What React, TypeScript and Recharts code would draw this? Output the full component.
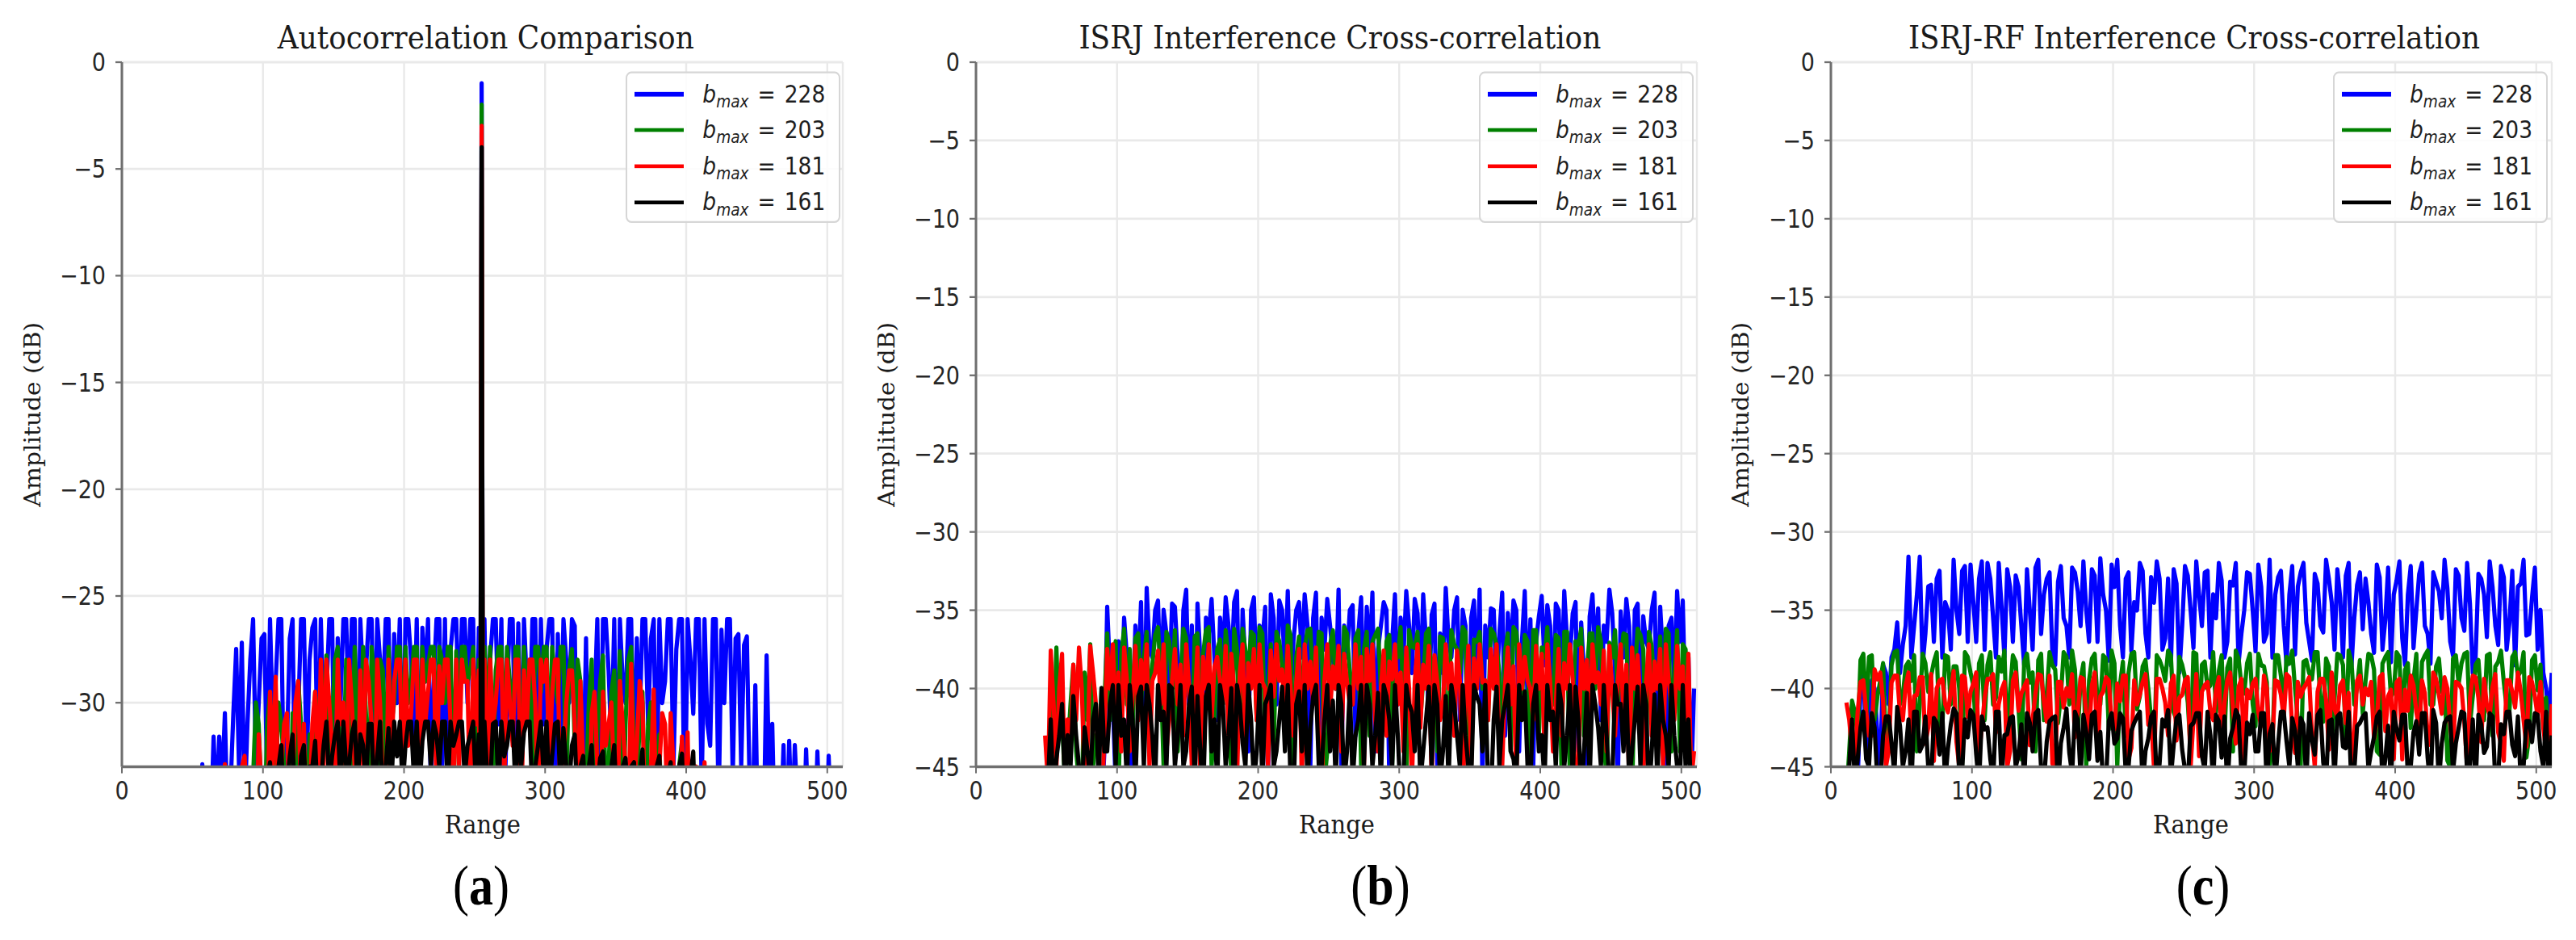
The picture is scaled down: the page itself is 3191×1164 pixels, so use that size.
import React from 'react';
import { LineChart, Line, XAxis, YAxis, CartesianGrid, Legend } from 'recharts';

// ---------- figure geometry ----------
const S = 1.15; // vertical stretch of the figure
const FIG_W = 3191;
const FIG_H = 1164 / S;
const PLOT_TOP = 77 / S;
const PLOT_BOTTOM = 949.5 / S;
const PLOT_W = 893;
const YW = 140;
const XH = 100;
const RIGHT_M = 25;
const CHART_W = YW + PLOT_W + RIGHT_M;
const STEP = 4; // main samples every 4 range bins, in-between samples offset by 2
const HALF = 2;

// ---------- data ----------
const rangeTicks = [0, 100, 200, 300, 400, 500];
const ticksA = [0, -5, -10, -15, -20, -25, -30];
const ticksBC = [0, -5, -10, -15, -20, -25, -30, -35, -40, -45];
const legendValues = [228, 203, 181, 161];
const colors = ['#0000ff', '#008000', '#ff0000', '#000000'];

// (a) Autocorrelation
const peakX = 255;
const peakA = [-1, -2, -3, -4];
const floorA = -40;
const startBlueA = 53;
const blueA = [-40, -32.9, -40, -31.6, -31.6, -30.5, -34, -27.5, -27.2, -31, -26.1, -30, -26.8, -26.1, -29, -26.1, -32, -26.1, -30.5, -26.1, -28, -26.1, -26.1, -29.5, -26.1, -27, -26.1, -31, -26.1, -26.1, -28.5, -26.1, -26.1, -30, -26.1, -26.8, -26.1, -26.1, -28, -26.1, -26.5, -26.1, -29, -26.1, -26.1, -27.5, -26.1, -26.1, -30, -26.1, -26.5,
  -26.1, -28, -26.1, -26.1, -29.5, -26.1, -26.3, -26.1, -31, -26.1, -26.1, -27.5, -26.1, -26.8, -26.1, -30, -26.4, -31.5, -27, -33.5, -26.1, -26.1, -28.5, -26.1, -26.1, -30, -26.1, -27, -26.1, -31, -26.1, -26.1, -29, -26.1, -27.5, -26.1, -26.1, -30.5, -26.1, -26.1, -32, -26.1, -26.6, -26.1, -33.5, -26.8, -27.3, -34, -29.2, -35, -27.8, -31, -33.5, -32, -31.8, -32, -34, -32.2, -35, -32.3, -34, -32.5, -40];
const blueAmid = [-40, -40, -36, -35, -34, -36, -30.5, -33, -35, -28, -33, -27, -34, -31, -26.1, -35, -27, -36, -26.1, -33, -26.5, -34, -31, -26.1, -35, -30, -26.1, -26.1, -36, -29, -26.1, -33, -28, -26.1, -34, -30, -35, -26.1, -32, -36, -29, -34, -26.1, -33, -36, -26.1, -31, -26.1, -26.1, -35,
  -35, -34, -26.1, -31, -36, -26.1, -33, -35, -29, -26.1, -34, -31, -26.1, -36, -32, -28, -26.1, -37, -34, -36, -30, -35, -26.1, -32, -36, -29, -26.1, -34, -31, -26.1, -27, -35, -30, -26.1, -33, -26.1, -36, -28, -26.1, -34, -31, -26.1, -35, -30, -26.1, -27, -33, -26.9, -36, -37, -36, -34, -37, -36, -37, -36, -35, -37, -36, -37, -36, -37, -36];
const startGreenA = 89;
const greenA = [-40, -33.5, -31, -36, -29.5, -34, -31, -35, -30.5, -29, -33, -31.5, -29.5, -35, -27.8, -31, -27.4, -33, -29, -27.4, -32, -30.5, -27.4, -34, -28.5, -27.4, -30, -27.4, -27.4, -29, -27.4, -27.4, -28.2, -27.4, -27.4, -30, -27.4, -27.6, -27.4, -29, -27.4, -28,
  -27.4, -27.4, -28.5, -27.4, -27.4, -31, -27.4, -27.4, -28, -27.4, -29.5, -27.4, -27.4, -30, -27.4, -28.5, -32, -29, -34, -28, -31.5, -27.8, -33, -28.5, -27.6, -31, -27.4, -34, -29.5, -31, -35, -31.5, -36, -32.5, -35, -31.8, -34, -40];
const greenAmid = [-36, -30, -35, -31, -36, -30, -33, -37, -34, -31, -36, -33, -31, -30, -34, -28, -35, -28, -33, -31, -27.4, -35, -29, -28, -34, -31, -27.4, -33, -30, -27.4, -34, -29, -27.4, -32, -28, -27.4, -35, -30, -27.4, -28.5,
  -33, -33, -31, -34, -27.4, -32, -29, -27.4, -35, -30, -33, -27.4, -27.4, -33, -29, -27.4, -34, -27.5, -28, -36, -30, -36, -29, -35, -29.5, -34, -36, -28, -32, -31, -36, -30, -33, -38, -34, -38, -33, -37, -37];
const startRedA = 69;
const redA = [-40, -32.9, -40, -35, -33, -36, -34, -31.5, -35, -29.5, -28.8, -33, -30.5, -34, -29, -31, -35, -29.5, -28, -28, -32, -28, -30, -28, -33, -28.5, -28, -31, -28, -34, -28, -29, -28, -28, -30.5, -28, -28, -29.5, -28, -28.3, -28, -31, -28, -28, -29, -28, -28.5,
  -28, -28, -30, -28, -28, -32, -28, -28.5, -28, -30, -28, -28, -29.5, -28, -33, -28.5, -31, -29, -35, -30.5, -33, -29.5, -31, -34, -29, -33, -28.2, -32, -30, -35, -29.4, -33, -31, -30.5, -35, -31.6, -31.4, -36, -34, -32.8, -40];
const redAmid = [-40, -40, -36, -37, -32.5, -35, -37, -34, -36, -33, -35, -31, -36, -30, -35, -36, -31, -34, -33, -30, -35, -31, -34, -30, -36, -33, -29, -35, -30, -36, -33, -28, -34, -32, -28, -36, -31, -28, -34, -30, -28, -35, -33, -29, -36, -31,
  -34, -35, -31, -28, -34, -30, -28, -36, -31, -28, -35, -29, -33, -28, -36, -30, -28.5, -35, -33, -37, -29.5, -36, -32, -30, -37, -31, -36, -34, -29, -36, -33, -37, -30.5, -36, -33, -38, -36, -38, -33, -38, -38];
const startBlackA = 93;
const blackA = [-40, -33.5, -35, -32.8, -36, -32, -34, -31.5, -35, -32, -33, -31.8, -34, -30.9, -32.5, -30.9, -30.9, -33, -30.9, -31.5, -34, -31, -32.5, -35, -31.2, -30.9, -30.9, -32, -30.9, -30.9, -31.8, -30.9, -30.9, -33, -30.9, -30.9, -31.5, -30.9, -32, -30.9, -31.5,
  -30.9, -34, -30.9, -30.9, -32, -30.9, -30.9, -31.4, -30.9, -33, -30.9, -30.9, -32.5, -30.9, -31.2, -34, -31.5, -33, -35, -32, -34, -32.3, -36, -32, -34, -32.6, -33, -35, -32.2, -34, -36, -32.5, -35, -32.8, -34, -32.4, -35, -32.3, -40];
const blackAmid = [-37, -36, -33.5, -35, -33, -36, -32.5, -36, -32.5, -35, -33, -35, -32, -34, -31.5, -34, -33, -31.5, -34, -32, -31, -35, -30.9, -33, -34, -32.5, -34, -30.9, -33.5, -34, -30.9, -33, -31.5, -30.9, -34, -32, -30.9, -33.5, -31.5, -34,
  -34, -33.5, -31, -34, -32.5, -30.9, -34, -33, -30.9, -34.5, -32, -33.5, -34, -31, -34, -33, -32, -35, -32.5, -33, -35, -32.6, -35.5, -33, -35, -33, -35, -32.8, -33.5, -36, -34, -33, -36, -33.5, -35.5, -33, -36, -33.5, -37];

// (b) ISRJ interference
const startBlueB = 89;
const blueB = [-48, -34.8, -41, -37, -35.5, -46, -36, -34.5, -33.6, -38, -34.4, -35, -40, -34.8, -42, -33.7, -36, -34.6, -47, -36.5, -38, -35.5, -34.2, -39, -33.8, -35, -44, -34.2, -36, -34.8, -34, -41, -35, -33.8, -37, -34.5, -34, -45, -33.9, -35.5, -34.3, -38, -33.7, -36, -35, -43, -34.2, -34.8, -33.9, -37.5, -34.5, -46, -34, -35.5, -33.8, -39, -35.2, -34, -42, -34.6, -36.5, -33.6, -38, -34.2, -35, -47, -34.4, -33.7, -36, -34.9, -40, -33.9, -35.2, -34.4, -44, -33.8, -35.6, -37, -34.1, -34.7, -41, -35, -33.8, -38, -34.5, -35.8, -46, -34, -34.9, -36, -33.7, -39, -35.1, -34.3, -43, -34.6, -35.4, -37.5, -33.9, -34.8, -45, -35.5, -33.8, -34.4, -38, -40];
const blueBmid = [-44, -39, -46, -41, -38, -42, -39, -44, -37.5, -35, -40, -36.5, -34.6, -38, -35, -41, -45, -38, -35.5, -34.3, -42, -38, -36, -34.5, -43, -38.5, -35, -40, -37, -46, -35.5, -34.4, -39, -41, -35, -38, -36, -35.5, -44, -37.5, -36, -40, -45, -38, -34.7, -36.5, -42, -38, -44, -36, -35, -37, -41, -38, -36, -34.3, -40, -37, -35.3, -45, -39, -37, -35, -42, -36, -35.5, -40, -46, -38, -35, -36.5, -43, -38, -35, -37, -41, -45, -35.4, -38.5, -36, -34.6, -40, -37, -35.2, -44, -39, -35.4, -38, -42, -37, -35.2, -46, -38, -36, -35, -41, -37, -35, -43, -38, -36, -40, -37, -42, -46];
const startB = 49;
const greenB = [-48, -40.5, -37.4, -42, -44, -38.5, -46, -39, -37.2, -43, -40, -36.5, -38, -47, -36.2, -37.5, -36.8, -41, -36.4, -38.5, -36.1, -45, -37, -36.3, -39.5, -36.8, -44, -36.5, -37.8, -36.1, -42, -36.9, -36.3, -46, -37.5, -36.2, -39, -36.6, -36.1, -43, -37.2, -36.4, -38.5, -36, -47, -36.7, -37.4, -36.2, -40, -36.5, -44, -36.3, -37.6, -36.1, -39, -36.8, -45, -36.4, -37, -36.2, -41, -36.6, -37.8, -36.1, -46, -37.3, -36.4, -39.5, -36.2, -38, -36.7, -43, -36.3, -37.5, -36.1, -47, -36.9, -36.4, -40, -36.2, -37.2, -44, -36.5, -36.1, -38.8, -36.6, -45, -36.3, -37.4, -36.1, -41, -36.8, -36.4, -46, -37, -36.2, -39, -36.5, -36.1, -43, -37.1, -36.3, -38, -36.6, -47, -36.2, -37.5, -36.4, -40, -36.7, -36.2, -44, -36.3, -37.2, -41.5, -46];
const greenBmid = [-46, -44, -43, -46, -41, -44, -47, -42, -45, -44, -41, -42, -37, -37.8, -41, -43, -36.5, -38, -42, -36.6, -39, -36.4, -40, -44, -36.2, -40, -36.7, -41, -36.3, -45, -37.5, -41, -38, -36.2, -43, -37.6, -36.4, -42, -36.5, -40, -44, -37, -41, -36.6, -38, -43, -36.3, -40, -36.4, -46, -37.2, -40, -42, -36.5, -41, -36.3, -37.5, -43, -36.6, -40, -37, -45, -38, -41, -36.3, -37.4, -42, -36.5, -40, -44, -36.8, -41, -37.2, -39, -36.4, -45, -37, -40, -42, -36.5, -39, -37.6, -44, -36.4, -41, -37, -36.3, -43, -38, -40, -36.6, -45, -36.4, -41, -37.2, -43, -36.5, -40, -37, -46, -38, -41, -36.5, -43, -39, -36.6, -44, -37.3, -40, -42, -36.5, -39, -44, -37.5, -45];
const redB = [-43, -37.6, -45, -37.8, -42, -38.5, -37.4, -46, -37.3, -41, -48, -37.5, -37.2, -39, -37.4, -44, -37.3, -38.2, -37.2, -39.5, -37.6, -37.2, -42, -37.5, -38.5, -37.2, -45, -37.4, -38, -37.2, -38.6, -39.5, -37.3, -37.8, -46, -37.2, -38.4, -37.5, -37.2, -40, -37.6, -37.2, -38.8, -37.3, -43, -37.5, -37.2, -38.3, -37.4, -47, -37.2, -38.6, -37.3, -37.8, -41, -37.2, -38, -37.5, -37.2, -44, -37.6, -38.3, -37.2, -39, -37.4, -46, -37.2, -38.5, -37.3, -37.9, -42, -37.2, -38.4, -37.6, -47, -37.3, -38.1, -37.2, -39.5, -37.5, -37.2, -45, -37.4, -38.6, -37.2, -38, -40, -37.3, -37.8, -37.2, -44, -37.5, -38.4, -37.2, -48, -37.4, -38.2, -37.2, -39, -37.6, -37.3, -43, -37.2, -38.5, -37.4, -37.9, -46, -37.2, -38.3, -37.5, -37.2, -41, -37.3, -38.6, -37.8, -44];
const redBmid = [-46, -41, -40, -46, -44, -42, -40, -44, -39, -45, -43, -40, -42, -44, -39.5, -40.5, -42, -40, -45, -39, -41, -44, -39.5, -41, -43, -39.8, -41, -46, -40, -42, -38, -41, -43, -40, -39, -44, -40, -42, -39.6, -45, -40.5, -39.5, -42, -40, -39.6, -46, -40, -41, -43, -39.5, -41.5, -40, -44, -39.6, -41, -40, -45, -39.5, -42, -40, -43, -39.4, -41, -44, -40, -39.6, -42.5, -40, -46, -39.6, -41, -40, -43, -39.5, -41, -45, -40, -39.6, -42, -40, -44, -39.8, -41, -46, -40, -39.5, -42, -40, -44, -39.6, -41, -43, -40, -39.5, -45, -40, -42, -39.6, -41, -44, -40, -39.5, -42, -46, -40, -41, -39.6, -43, -40, -45, -39.5, -42, -40, -44, -46];
const blackB = [-47, -42, -44.5, -41, -43, -40.5, -45, -42.5, -46, -41, -40, -44, -39.8, -39.8, -42, -39.8, -46, -39.9, -39.8, -43, -39.8, -41.5, -39.8, -45, -39.8, -44, -39.9, -40.5, -47, -39.8, -42, -39.8, -45, -40, -39.8, -43.5, -39.8, -46, -39.8, -41, -39.8, -44, -39.9, -39.8, -47, -40.2, -39.8, -42.5, -39.8, -45, -39.8, -40.8, -39.8, -46, -39.9, -43, -39.8, -39.8, -45, -40.3, -39.8, -42, -39.8, -47, -39.8, -41.5, -39.8, -44, -39.9, -39.8, -46, -40.5, -39.8, -43, -39.8, -45, -39.8, -41, -39.8, -47, -39.9, -42, -39.8, -44.5, -39.8, -40.2, -46, -39.8, -43, -39.8, -41.5, -39.8, -45, -39.8, -39.9, -47, -40.3, -39.8, -42.5, -39.8, -46, -39.8, -41, -39.8, -44, -39.9, -39.8, -47, -40.4, -39.8, -43, -39.8, -45, -39.8, -42, -46];
const blackBmid = [-46, -47, -43, -46, -45, -43, -47, -44, -42, -46, -44, -41, -45, -43, -46, -42, -40.5, -45, -41, -46, -42, -45, -40, -43, -45, -41, -46, -44, -40.5, -44, -46, -41, -43, -47, -41, -45, -42, -44, -46, -40.5, -45, -42, -44, -46, -41, -44, -46, -40.5, -45, -42, -44, -46, -41, -44, -46, -42, -45, -41, -43, -46, -40.5, -45, -43, -46, -41, -44, -46, -42, -45, -41, -44, -46, -41, -45, -43, -46, -40.5, -44, -46, -42, -45, -41, -44, -46, -42, -45, -41, -44, -46, -42, -45, -41, -43, -46, -42, -44, -46, -41, -45, -43, -46, -41, -44, -46, -42, -45, -41, -44, -46, -42, -45, -43, -46, -45, -47];

// (c) ISRJ-RF interference
const startBlueC = 19;
const blueC = [-46, -38.5, -42, -40, -45, -39, -38, -35.8, -37.2, -31.6, -36, -31.6, -36.5, -33.4, -33, -38, -35, -31.8, -36.5, -32.2, -32.1, -37, -31.9, -32, -35.5, -32, -38, -33.5, -32.8, -36, -32.4, -37.5, -31.8, -34, -32.6, -38.5, -32.2, -36, -32.3, -33.8, -31.9, -37, -32.8, -31.7, -35, -32.1, -31.8, -38, -32.6, -34.5, -32, -36.5, -32.9, -31.9, -37.5, -33, -32.4, -39, -32.2, -35, -31.9, -36, -32.5, -34, -32, -38, -33.2, -32, -36.5, -32.6, -35, -32.1, -37, -31.8, -34, -32.5, -38.5, -32.2, -33.5, -32, -37, -32.7, -36, -31.8, -34.5, -32.4, -38, -32, -35.5, -32.6, -33, -36.5, -32.1, -37.5, -32.3, -34, -31.9, -38.5, -32.2, -35, -32, -36.5, -32.6, -33.8, -31.8, -37, -32.4, -35.5, -32, -39, -32.7, -34, -31.9, -36, -32.2, -37.5, -32.5, -33.5, -31.8, -36.5, -32.3, -35, -40, -39];
const blueCmid = [-40, -44, -39.5, -43, -38.5, -41, -37.5, -39, -36, -38, -34, -38.5, -33.5, -37, -32.5, -34.5, -37.5, -35, -32.5, -37, -34.5, -33, -37.5, -33, -38, -34.8, -32.4, -37, -33.5, -38.5, -35, -32.3, -36.5, -33, -37.8, -33.2, -35.5, -38, -32.6, -36, -35, -32.4, -37, -34, -38.2, -33.5, -36, -33, -37.6, -35, -32.5, -38, -34.5, -33, -36.8, -38.5, -33.3, -36, -32.8, -37.4, -34, -32.6, -38, -35.5, -33.1, -37, -33.4, -38.4, -35, -32.7, -37.6, -33.5, -36.5, -38, -32.9, -36, -34, -37.8, -32.6, -35.8, -38.2, -33.3, -36.4, -33, -37.5, -34.2, -32.8, -38.6, -33.4, -36.2, -34.5, -37.7, -32.9, -35.6, -38.3, -33.1, -36.8, -34, -37.4, -32.7, -36, -38.4, -33.2, -35.5, -33.6, -37.9, -32.8, -36.3, -34.6, -38, -33, -36.7, -33.5, -37.2, -32.9, -35.8, -38.5, -33.3, -36.6, -34.2, -37.5, -39, -42];
const startC = 11;
const greenC = [-47, -40.8, -43, -37.8, -38, -42, -39.5, -44, -38.5, -37.6, -40.5, -38.3, -37.9, -41, -38.4, -39.2, -37.7, -42.5, -38, -38.6, -40, -37.7, -39, -43, -37.9, -38.5, -41, -38, -37.6, -40.2, -38.3, -44.5, -37.8, -39, -38.2, -42, -37.7, -38.8, -40.5, -38, -37.6, -43, -38.4, -39.5, -37.8, -41, -38.1, -37.6, -45, -38.3, -39, -37.7, -40.5, -38.2, -42, -37.9, -38.7, -37.6, -41.5, -38, -39.3, -44, -37.8, -38.5, -40, -37.7, -38.9, -43, -38.1, -37.6, -39.8, -38.4, -41, -37.8, -38.6, -45, -37.9, -39.2, -38, -37.6, -42, -38.3, -39, -37.7, -40.8, -38.1, -43.5, -37.8, -38.5, -37.6, -41, -38.2, -39.5, -37.9, -44, -38.4, -37.7, -40.2, -38, -38.8, -42.5, -37.8, -38.3, -37.6, -41, -38.1, -39.6, -45, -37.9, -38.4, -37.7, -40.5, -38.2, -42, -37.8, -38.6, -37.6, -41.2, -38, -39.2, -37.7, -43, -37.9, -38.5, -40.6, -42];
const greenCmid = [-44, -41.5, -38.2, -42, -37.9, -40.5, -38.4, -43, -37.7, -41, -38.6, -39.5, -44, -37.8, -40.2, -38.3, -42.5, -37.9, -41, -38.6, -45, -38, -39.8, -38.4, -42, -37.7, -40.6, -38.9, -43.5, -37.9, -41.2, -38.3, -39.6, -44, -37.8, -40.4, -38.5, -42.2, -37.7, -41, -38.8, -39.4, -45, -38.1, -40.8, -37.9, -42.6, -38.4, -39.7, -43, -37.8, -41.3, -38.6, -40, -44.5, -38.2, -39.5, -37.9, -42, -38.5, -40.9, -37.7, -43.2, -38.3, -39.8, -41.5, -37.9, -38.7, -44, -38.1, -40.3, -37.8, -42.4, -38.5, -39.6, -43.6, -37.9, -41.1, -38.4, -40, -45, -38.2, -39.4, -37.7, -42.1, -38.6, -40.7, -37.9, -43.4, -38.3, -39.9, -41.6, -37.8, -38.8, -44.2, -38, -40.5, -37.7, -42.7, -38.4, -39.5, -43.8, -37.9, -41, -38.6, -40.2, -44.6, -38.1, -39.7, -37.8, -42.3, -38.5, -40.8, -37.9, -43, -38.3, -39.6, -41.4, -37.7, -38.9, -44.4, -38.2, -40.1, -42.5, -44];
const redC = [-40.9, -44, -41.5, -39.5, -43, -38.8, -39, -45, -39.6, -39.2, -42, -39, -40.5, -39.3, -43.5, -39.1, -40, -39.4, -41.5, -38.9, -45, -39.3, -40.2, -39, -42.5, -39.4, -39.1, -41, -39.6, -44, -39, -40.3, -39.5, -42, -39.1, -40.8, -39.2, -45, -39.6, -40, -39.1, -41.5, -39.4, -43, -39, -40.5, -39.3, -42.2, -39.7, -39.2, -44.5, -39.5, -40.4, -39.1, -41.8, -39.4, -40, -43, -39.2, -40.6, -39.5, -45, -39.1, -40.2, -39.6, -42, -39.3, -40.9, -39, -43.5, -39.4, -40.1, -39.7, -41.5, -39.2, -44, -39.5, -40.4, -39.1, -42.5, -39.6, -40, -39.3, -45, -39.4, -40.7, -39, -41.8, -39.5, -40.3, -43, -39.2, -40, -39.6, -42, -39.1, -40.5, -44.5, -39.4, -40.1, -39.2, -41.5, -39.5, -43, -39, -40.4, -39.3, -42.3, -39.6, -40, -45, -39.2, -40.6, -39.4, -41.7, -39.1, -43.5, -39.5, -40.2, -39, -42, -39.3, -40.5, -39.6, -44, -41];
const redCmid = [-42, -44.5, -39.6, -41.5, -43, -39.4, -40.8, -44, -39.2, -41.6, -39.8, -43.2, -40.4, -39.3, -42.5, -44.6, -39.5, -41, -40.2, -43.4, -39.2, -41.8, -39.7, -44.2, -40.6, -39.4, -42.8, -40.1, -45, -39.5, -41.4, -39.9, -43.6, -40.3, -39.2, -42.1, -44.8, -39.6, -41.2, -40.5, -43.1, -39.3, -41.7, -39.8, -44.4, -40.2, -39.5, -42.6, -40.8, -39.2, -43.8, -41, -39.6, -42.3, -45, -39.4, -40.9, -39.7, -43.3, -40.4, -39.3, -42, -44.3, -39.8, -41.5, -40.1, -43.7, -39.5, -41.2, -39.9, -44.7, -40.6, -39.4, -42.4, -40, -43.5, -39.6, -41.9, -39.3, -44.1, -40.5, -39.7, -42.9, -40.2, -39.4, -43.9, -41.3, -39.8, -42.2, -44.9, -39.5, -41, -40.4, -43.2, -39.3, -42.7, -40.1, -39.6, -44.5, -41.4, -39.8, -42.5, -40.3, -43.6, -39.4, -41.6, -40, -44.2, -39.7, -42.1, -40.6, -39.3, -43.4, -41.1, -39.9, -42.8, -44.6, -39.5, -41.2, -40.2, -43.7, -39.6, -41.8, -42.5, -44];
const blackC = [-47, -42, -44.5, -41.5, -45, -42.5, -46, -41.8, -43.5, -41.2, -45, -42, -41.5, -44, -41.8, -46, -42.2, -41.6, -43.8, -41.3, -45.5, -42, -41.4, -44.2, -41.8, -42.5, -46, -41.5, -43, -41.9, -45, -42.3, -41.6, -44, -41.4, -46, -42.1, -41.8, -43.5, -41.3, -45.5, -42, -41.7, -44.5, -41.5, -42.8, -46, -41.6, -43.2, -41.9, -45, -42.2, -41.5, -44, -41.8, -46, -42, -41.4, -43.6, -41.7, -45.2, -42.4, -41.6, -44.3, -41.5, -46, -42.1, -41.8, -43.2, -41.4, -45.5, -42.2, -41.7, -44, -41.6, -42.9, -46, -41.5, -43.4, -41.9, -45, -42.3, -41.6, -44.2, -41.4, -46, -42, -41.8, -43.7, -41.5, -45.3, -42.2, -41.6, -44, -41.8, -46, -42.4, -41.5, -43.3, -41.7, -45, -42.1, -41.6, -44.4, -41.4, -46, -42.2, -41.8, -43.5, -41.5, -45.4, -42, -41.7, -44.1, -41.6, -46, -42.3, -41.5, -43.6, -41.8, -45, -42.1, -41.6, -44, -41.5, -43];
const blackCmid = [-45, -46, -42.5, -44.5, -41.6, -46, -43, -41.8, -45.5, -42.4, -44, -46.5, -41.5, -43.6, -45, -41.9, -44.2, -46, -42.3, -41.6, -45.3, -43.1, -41.7, -46.2, -42.6, -44.5, -41.5, -45.8, -42.9, -41.8, -44.3, -46, -42.2, -41.6, -45.1, -43.4, -41.9, -46.4, -42.5, -44.1, -41.5, -45.6, -42.8, -41.7, -44.6, -46.1, -42.1, -43.5, -41.6, -45.4, -42.7, -41.8, -46.3, -43.2, -41.5, -44.8, -42.4, -45.7, -41.9, -43.9, -46, -42.2, -41.6, -45.2, -43, -41.7, -44.4, -46.5, -42.5, -41.8, -45.5, -42.9, -44, -41.6, -46.2, -42.3, -43.6, -41.5, -45, -42.7, -41.9, -46, -43.3, -41.7, -44.7, -42.1, -45.8, -41.6, -43.8, -46.3, -42.4, -41.8, -45.1, -43.1, -41.5, -44.5, -46, -42.6, -41.7, -45.6, -42.8, -44.2, -41.6, -46.4, -42.2, -43.5, -41.9, -45.3, -42.5, -41.6, -44.9, -46.1, -42.3, -43.7, -41.8, -45.7, -42.9, -41.5, -44.3, -46, -42.1, -43.4, -41.7, -45, -46.5];

// ---------- helpers ----------
type Pt = { x: number; y: number };
const toPoints = (start: number, values: number[]): Pt[] =>
  values.map((y, i) => ({ x: start + i * STEP, y }));

const series = (start: number, main: number[], mid: number[]): Pt[] =>
  [...toPoints(start, main), ...toPoints(start + HALF, mid)].sort((p, q) => p.x - q.x);

const withPeak = (pts: Pt[], peak: number): Pt[] =>
  [
    ...pts.filter((p) => Math.abs(p.x - peakX) > 1),
    { x: peakX - 1, y: floorA },
    { x: peakX, y: peak },
    { x: peakX + 1, y: floorA },
  ].sort((p, q) => p.x - q.x);

const fmt = (v: number) => (v < 0 ? `\u2212${-v}` : `${v}`);

const SPINE = '#6f6f6f';
const TICK_FONT = { fill: '#262626', fontSize: 27, fontFamily: 'DejaVu Sans' };

type Panel = {
  left: number;
  title: string;
  titleW: number;
  yDomain: [number, number];
  yTicks: number[];
  series: Pt[][];
  legendInset: number;
  caption: string;
  captionX: number;
};

const panels: Panel[] = [
  {
    left: 151.3,
    title: 'Autocorrelation Comparison',
    titleW: 516,
    yDomain: [-33, 0],
    yTicks: ticksA,
    series: [
      withPeak(series(startBlueA, blueA, blueAmid), peakA[0]),
      withPeak(series(startGreenA, greenA, greenAmid), peakA[1]),
      withPeak(series(startRedA, redA, redAmid), peakA[2]),
      withPeak(series(startBlackA, blackA, blackAmid), peakA[3]),
    ],
    legendInset: 3,
    caption: 'a',
    captionX: 596,
  },
  {
    left: 1209.4,
    title: 'ISRJ Interference Cross-correlation',
    titleW: 647,
    yDomain: [-45, 0],
    yTicks: ticksBC,
    series: [
      series(startBlueB, blueB, blueBmid),
      series(startB, greenB, greenBmid),
      series(startB, redB, redBmid),
      series(startB, blackB, blackBmid),
    ],
    legendInset: 4.5,
    caption: 'b',
    captionX: 1710,
  },
  {
    left: 2267.5,
    title: 'ISRJ-RF Interference Cross-correlation',
    titleW: 708,
    yDomain: [-45, 0],
    yTicks: ticksBC,
    series: [
      series(startBlueC, blueC, blueCmid),
      series(startC, greenC, greenCmid),
      series(startC, redC, redCmid),
      series(startC, blackC, blackCmid),
    ],
    legendInset: 4.5,
    caption: 'c',
    captionX: 2729,
  },
];

const LEG_W = 266;
const LEG_H = 163;

const renderLegend = () => (
  <div
    style={{
      boxSizing: 'border-box',
      width: LEG_W,
      height: LEG_H,
      border: '2px solid #d6d6d6',
      borderRadius: 7,
      background: 'rgba(255,255,255,0.85)',
      paddingTop: 3,
    }}
  >
    {legendValues.map((v, i) => (
      <div key={v} style={{ display: 'flex', alignItems: 'center', height: 38.8 }}>
        <div style={{ marginLeft: 9, width: 61, height: 4.4, background: colors[i] }} />
        <div
          style={{
            marginLeft: 23,
            fontFamily: 'DejaVu Sans',
            fontSize: 26.5,
            color: '#1e1e1e',
            whiteSpace: 'nowrap',
            lineHeight: 1,
          }}
        >
          <span style={{ fontStyle: 'italic' }}>b</span>
          <span style={{ fontStyle: 'italic', fontSize: '0.7em', position: 'relative', top: '0.3em' }}>max</span>
          <span style={{ margin: '0 11px' }}>=</span>
          <span>{v}</span>
        </div>
      </div>
    ))}
  </div>
);

const PanelChart = ({ p }: { p: Panel }) => {
  const chartLeft = p.left - YW;
  const marginBottom = FIG_H - PLOT_BOTTOM - XH;
  return (
    <div style={{ position: 'absolute', left: chartLeft, top: 0 }}>
      <LineChart
        width={CHART_W}
        height={FIG_H}
        margin={{ top: PLOT_TOP, right: RIGHT_M, bottom: marginBottom, left: 0 }}
      >
        <CartesianGrid stroke="#e9e9e9" strokeWidth={2.4} />
        <XAxis
          type="number"
          dataKey="x"
          domain={[0, 511]}
          ticks={rangeTicks}
          interval={0}
          allowDataOverflow
          height={XH}
          tick={TICK_FONT}
          tickSize={7}
          tickMargin={9}
          tickLine={{ stroke: SPINE, strokeWidth: 2 }}
          axisLine={{ stroke: SPINE, strokeWidth: 3 }}
        />
        <XAxis
          xAxisId="top"
          orientation="top"
          type="number"
          domain={[0, 511]}
          height={0}
          tick={false}
          tickLine={false}
          axisLine={{ stroke: SPINE, strokeWidth: 3 }}
        />
        <YAxis
          type="number"
          domain={p.yDomain}
          ticks={p.yTicks}
          interval={0}
          allowDataOverflow
          width={YW}
          tick={TICK_FONT}
          tickSize={8}
          tickMargin={12}
          tickFormatter={fmt}
          tickLine={{ stroke: SPINE, strokeWidth: 2 }}
          axisLine={{ stroke: SPINE, strokeWidth: 3 }}
        />
        <YAxis
          yAxisId="right"
          orientation="right"
          type="number"
          domain={p.yDomain}
          width={0}
          tick={false}
          tickLine={false}
          axisLine={{ stroke: SPINE, strokeWidth: 3 }}
        />
        {p.series.map((pts, i) => (
          <Line
            key={i}
            data={pts}
            dataKey="y"
            type="linear"
            stroke={colors[i]}
            strokeWidth={5.2}
            strokeLinejoin="round"
            dot={false}
            activeDot={false}
            isAnimationActive={false}
            legendType="line"
            name={`b_max = ${legendValues[i]}`}
          />
        ))}
        <Legend
          content={renderLegend}
          layout="horizontal"
          align="center"
          verticalAlign="middle"
          wrapperStyle={{
            left: YW + PLOT_W - p.legendInset - LEG_W,
            top: PLOT_TOP + 10,
            width: LEG_W,
            height: LEG_H,
          }}
        />
      </LineChart>
    </div>
  );
};

const TextOverlay = () => (
  <svg
    width={FIG_W}
    height={FIG_H}
    style={{ position: 'absolute', left: 0, top: 0, pointerEvents: 'none' }}
  >
    {panels.map((p) => {
      const cx = p.left + PLOT_W / 2;
      const cy = (PLOT_TOP + PLOT_BOTTOM) / 2;
      const ylx = p.left - 110;
      return (
        <g key={p.caption}>
          <text
            x={cx + 4}
            y={60 / S}
            textAnchor="middle"
            fontFamily="DejaVu Serif"
            fontSize={34}
            fill="#1a1a1a"
            textLength={p.titleW}
            lengthAdjust="spacingAndGlyphs"
          >
            {p.title}
          </text>
          <text
            x={cx}
            y={1032 / S}
            textAnchor="middle"
            fontFamily="DejaVu Serif"
            fontSize={28}
            fill="#1a1a1a"
            textLength={94}
            lengthAdjust="spacingAndGlyphs"
          >
            Range
          </text>
          <text
            x={0}
            y={0}
            transform={`translate(${ylx},${cy}) rotate(-90)`}
            dy="0.32em"
            textAnchor="middle"
            fontFamily="DejaVu Serif"
            fontSize={28}
            fill="#1a1a1a"
            textLength={199}
            lengthAdjust="spacingAndGlyphs"
          >
            Amplitude (dB)
          </text>
          <text
            x={p.captionX}
            y={974}
            textAnchor="middle"
            fontFamily="Liberation Serif"
            fontSize={60}
            fill="#000"
          >
            (<tspan fontWeight="bold">{p.caption}</tspan>)
          </text>
        </g>
      );
    })}
  </svg>
);

export default function App() {
  return (
    <div style={{ position: 'absolute', left: 0, top: 0, width: FIG_W, height: 1164, overflow: 'hidden', background: '#fff' }}>
      <div
        style={{
          position: 'absolute',
          left: 0,
          top: 0,
          width: FIG_W,
          height: FIG_H,
          transform: `scaleY(${S})`,
          transformOrigin: 'top left',
        }}
      >
        {panels.map((p) => (
          <PanelChart key={p.caption} p={p} />
        ))}
        <TextOverlay />
      </div>
    </div>
  );
}
